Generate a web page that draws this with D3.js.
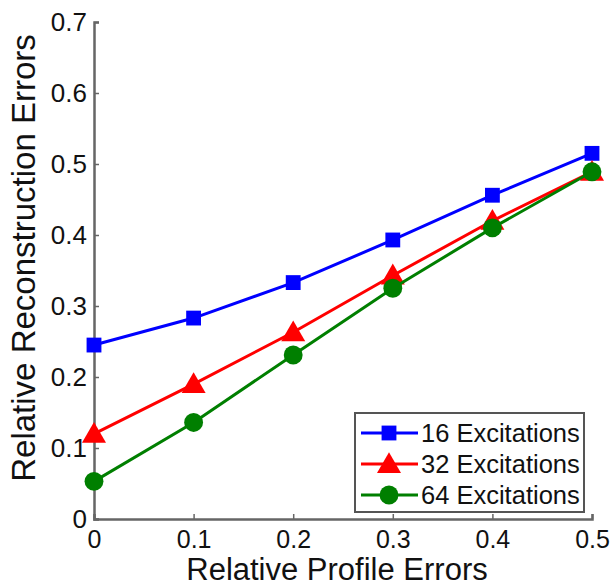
<!DOCTYPE html>
<html>
<head>
<meta charset="utf-8">
<script src="https://cdn.jsdelivr.net/npm/d3@7"></script>
<style>
  body { margin: 0; background: #fff; }
  svg { font-family: "Liberation Sans", Arial, sans-serif; }
</style>
</head>
<body>
<div id="chart"></div>
<script>
// data
var profileErrors = [0, 0.1, 0.2, 0.3, 0.4, 0.5];
var exc16 = [0.245, 0.283, 0.333, 0.393, 0.456, 0.515];
var exc32 = [0.120, 0.190, 0.263, 0.343, 0.420, 0.489];
var exc64 = [0.053, 0.136, 0.231, 0.325, 0.410, 0.489];
var seriesNames = ["16 Excitations", "32 Excitations", "64 Excitations"];
var xTicks = [0, 0.1, 0.2, 0.3, 0.4, 0.5];
var yTicks = [0, 0.1, 0.2, 0.3, 0.4, 0.5, 0.6, 0.7];

var W = 613, H = 587;
var margin = {top: 22, right: 21, bottom: 68, left: 94},
    width = W - margin.left - margin.right,
    height = H - margin.top - margin.bottom;

var svg = d3.select("#chart").append("svg")
  .attr("width", W).attr("height", H);
var g = svg.append("g")
  .attr("transform", "translate(" + margin.left + "," + margin.top + ")");

var x = d3.scaleLinear().domain([0, 0.5]).range([0, width]);
var y = d3.scaleLinear().domain([0, 0.7]).range([height, 0]);

var axisColor = "#666";
var fmt = function(d) { return d === 0 ? "0" : d3.format(".1f")(d); };

// x axis, ticks pointing inward
var xAxis = g.append("g")
  .attr("transform", "translate(0," + height + ")")
  .call(d3.axisBottom(x).tickValues(xTicks).tickSize(-5).tickPadding(11).tickFormat(fmt));
xAxis.select(".domain").attr("stroke", axisColor).attr("stroke-width", 2.5);
xAxis.selectAll(".tick line").attr("stroke", axisColor).attr("stroke-width", 1.5);
xAxis.selectAll("text").style("font-size", "25px").attr("fill", "#111");

var yAxis = g.append("g")
  .call(d3.axisLeft(y).tickValues(yTicks).tickSize(-5).tickPadding(7).tickFormat(fmt));
yAxis.select(".domain").attr("stroke", axisColor).attr("stroke-width", 2.5);
yAxis.selectAll(".tick line").attr("stroke", axisColor).attr("stroke-width", 1.5);
yAxis.selectAll("text").style("font-size", "26px").attr("fill", "#111");

// axis titles
svg.append("text")
  .attr("x", 337)
  .attr("y", 580)
  .attr("text-anchor", "middle")
  .style("font-size", "31px").attr("fill", "#111")
  .text("Relative Profile Errors");

svg.append("text")
  .attr("transform", "translate(35,258) rotate(-90)")
  .attr("text-anchor", "middle")
  .style("font-size", "33px").attr("fill", "#111")
  .text("Relative Reconstruction Errors");

var series = [
  {name: seriesNames[0], values: exc16, color: "#0000ff", marker: "square"},
  {name: seriesNames[1], values: exc32, color: "#ff0000", marker: "triangle"},
  {name: seriesNames[2], values: exc64, color: "#007f00", marker: "circle"}
];

var symbolFor = {
  square: d3.symbol().type(d3.symbolSquare).size(220),
  triangle: d3.symbol().type(d3.symbolTriangle).size(250),
  circle: d3.symbol().type(d3.symbolCircle).size(280)
};

var line = d3.line()
  .x(function(d, i) { return x(profileErrors[i]); })
  .y(function(d) { return y(d); });

series.forEach(function(s) {
  g.append("path")
    .datum(s.values)
    .attr("d", line)
    .attr("fill", "none")
    .attr("stroke", s.color)
    .attr("stroke-width", 3);
  g.selectAll(null)
    .data(s.values)
    .enter().append("path")
    .attr("d", symbolFor[s.marker])
    .attr("transform", function(d, i) {
      var dy = s.marker === "triangle" ? 2 : 0;
      return "translate(" + x(profileErrors[i]) + "," + (y(d) + dy) + ")";
    })
    .attr("fill", s.color);
});

// legend
var legend = svg.append("g").attr("transform", "translate(355,413)");
legend.append("rect")
  .attr("width", 229).attr("height", 99)
  .attr("fill", "#fff").attr("stroke", "#555").attr("stroke-width", 2);

var rows = legend.selectAll("g.row")
  .data(series)
  .enter().append("g")
  .attr("class", "row")
  .attr("transform", function(d, i) { return "translate(0," + (20 + i * 31) + ")"; });

rows.append("line")
  .attr("x1", 6).attr("x2", 63)
  .attr("stroke", function(d) { return d.color; })
  .attr("stroke-width", 3);
rows.append("path")
  .attr("d", function(d) { return symbolFor[d.marker](); })
  .attr("transform", function(d) { return "translate(34," + (d.marker === "triangle" ? 2 : 0) + ")"; })
  .attr("fill", function(d) { return d.color; });
rows.append("text")
  .attr("x", 66).attr("y", 9)
  .style("font-size", "25.5px").attr("fill", "#111")
  .text(function(d) { return d.name; });
</script>
</body>
</html>
